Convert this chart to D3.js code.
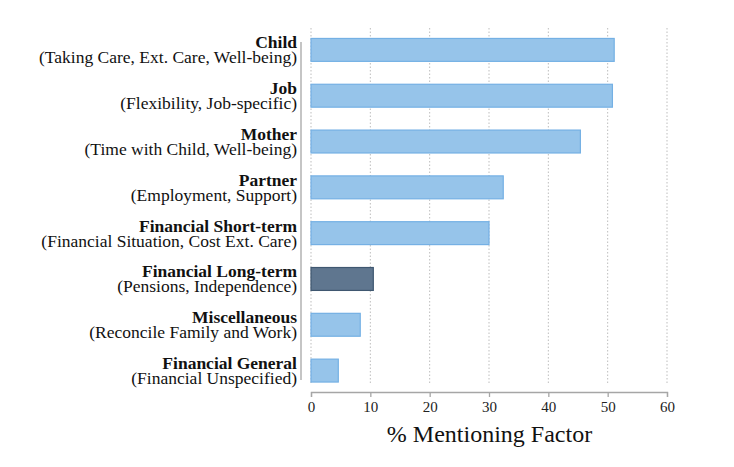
<!DOCTYPE html>
<html><head><meta charset="utf-8">
<script src="https://cdn.jsdelivr.net/npm/d3@7/dist/d3.min.js"></script>
<style>body{margin:0;background:#fff}svg{display:block}text{font-family:"Liberation Serif","Times New Roman",serif}</style>
</head><body><svg id="c" width="734" height="467"></svg>
<script>
const categories = ["Child","Job","Mother","Partner","Financial Short-term","Financial Long-term","Miscellaneous","Financial General"];
const subtitles = ["(Taking Care, Ext. Care, Well-being)","(Flexibility, Job-specific)","(Time with Child, Well-being)","(Employment, Support)","(Financial Situation, Cost Ext. Care)","(Pensions, Independence)","(Reconcile Family and Work)","(Financial Unspecified)"];
const values = [51.1, 50.8, 45.4, 32.4, 30.0, 10.5, 8.3, 4.6];
const highlighted = [false,false,false,false,false,true,false,false];
const xTicks = [0,10,20,30,40,50,60];
const xTitle = "% Mentioning Factor";
const FONT = '"Liberation Serif","Times New Roman",serif';

const svg = d3.select("#c");
const x = d3.scaleLinear().domain([0,60]).range([311,667]);
const y = d3.scaleBand().domain(categories).range([27,393.5]).paddingInner(0.5).paddingOuter(0.25);

svg.append("g").selectAll("line").data(xTicks).join("line")
  .attr("x1",d=>x(d)).attr("x2",d=>x(d)).attr("y1",28).attr("y2",385)
  .attr("stroke","#bdbdbd").attr("stroke-width",1).attr("stroke-dasharray","1.5,2");

svg.append("g").selectAll("rect").data(categories).join("rect")
  .attr("x",x(0)).attr("y",d=>y(d))
  .attr("width",(d,i)=>x(values[i])-x(0)).attr("height",y.bandwidth())
  .attr("fill",(d,i)=>highlighted[i]?"#5f768f":"#96c4ea")
  .attr("stroke",(d,i)=>highlighted[i]?"#3f5770":"#74b0e4").attr("stroke-width",1.2);

svg.append("line").attr("x1",301).attr("x2",301).attr("y1",42).attr("y2",380)
  .attr("stroke","#a6a6a6").attr("stroke-width",1.3);

const xa = svg.append("g").attr("transform","translate(0,392)")
  .call(d3.axisBottom(x).tickValues(xTicks).tickSize(5).tickPadding(4));
xa.attr("font-family",FONT);
xa.select(".domain").attr("stroke","#a6a6a6").attr("stroke-width",1.3);
xa.selectAll(".tick line").attr("stroke","#a6a6a6").attr("stroke-width",1.3);
xa.selectAll(".tick text").attr("font-family",FONT).attr("font-size",15).attr("fill","#222");

svg.append("text").attr("x",489.5).attr("y",442).attr("text-anchor","middle")
  .attr("font-family",FONT).attr("font-size",24).attr("fill","#111").text(xTitle);

const lab = svg.append("g").attr("font-family",FONT).selectAll("g").data(categories).join("g");
lab.append("text").attr("x",297).attr("y",d=>y(d)+y.bandwidth()/2-1.5).attr("text-anchor","end")
  .attr("font-family",FONT).attr("font-weight","bold").attr("font-size",17.5).attr("fill","#111").text(d=>d);
lab.append("text").attr("x",297).attr("y",(d)=>y(d)+y.bandwidth()/2+13.5).attr("text-anchor","end")
  .attr("font-family",FONT).attr("font-size",17.5).attr("fill","#111").text((d,i)=>subtitles[i]);
</script></body></html>
